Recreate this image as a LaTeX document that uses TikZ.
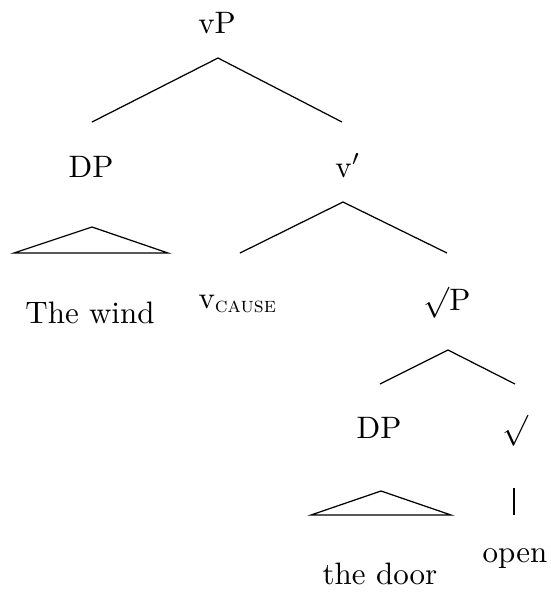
\documentclass[tikz,border=0pt]{standalone}
\begin{document}
\begin{tikzpicture}[x=0.3226pt,y=-0.3226pt,
  lab/.style={anchor=base,inner sep=0pt,outer sep=0pt},
  edge/.style={line width=0.4pt}]
\useasboundingbox (0,0) rectangle (551,592);
% labels
\node[lab] (vP) at (217,33) {vP};
\node[lab] (DP1) at (91,177) {DP};
\node[lab] (vbar) at (348,177) {v$'$};
\node[lab] (wind) at (90,323) {The wind};
\node[lab] (vcause) at (238,308) {v\textsubscript{\textsc{cause}}};
\node[lab] (rootP) at (447,310) {$\surd$P};
\node[lab] (DP2) at (379,438) {DP};
\node[lab] (root) at (515,438) {$\surd$};
\node[lab] (door) at (380,584) {the door};
\node[lab] (open) at (515,562) {open};
% branch points
\coordinate (a1) at (218,58);
\coordinate (a1l) at (92,122);
\coordinate (a1r) at (342,122);
\coordinate (t1) at (92,227);
\coordinate (t1l) at (14,253);
\coordinate (t1r) at (168,253);
\coordinate (a2) at (343,202);
\coordinate (a2l) at (240,253);
\coordinate (a2r) at (447,253);
\coordinate (a3) at (448,350);
\coordinate (a3l) at (380,384);
\coordinate (a3r) at (515,384);
\coordinate (t2) at (381,491);
\coordinate (t2l) at (311,515);
\coordinate (t2r) at (451,515);
\coordinate (v1) at (514,488);
\coordinate (v2) at (514,515);
% edges
\draw[edge] (a1l) -- (a1) -- (a1r);
\draw[edge] (t1l) -- (t1) -- (t1r) -- cycle;
\draw[edge] (a2l) -- (a2) -- (a2r);
\draw[edge] (a3l) -- (a3) -- (a3r);
\draw[edge] (t2l) -- (t2) -- (t2r) -- cycle;
\draw[edge] (v1) -- (v2);
\end{tikzpicture}
\end{document}
